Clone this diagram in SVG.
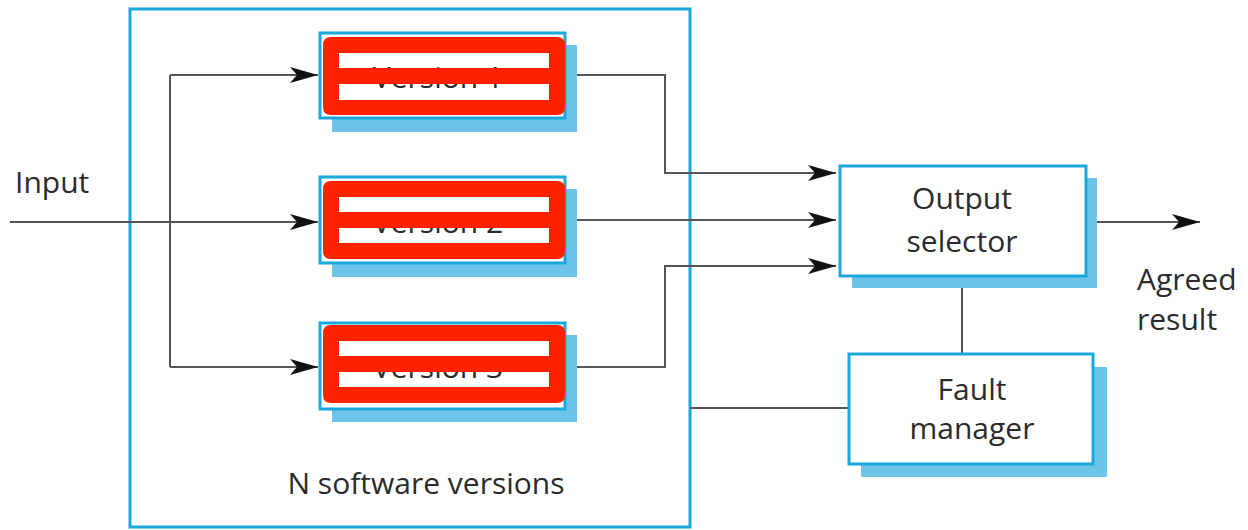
<svg xmlns="http://www.w3.org/2000/svg" width="1248" height="530" viewBox="0 0 1248 530">
<style>
  .box{fill:#fff;stroke:#1AA7DC;stroke-width:3}
  .shadow{fill:#6CC5E8}
  .lbl{font-family:"Open Sans","Noto Sans",sans-serif;font-size:30px;fill:#2b2b2b;text-anchor:middle}
  .lbl-l{font-family:"Open Sans","Noto Sans",sans-serif;font-size:30px;fill:#2b2b2b}
  .conn{fill:none;stroke:#555;stroke-width:2}
  .redact{fill:#FF2200;fill-rule:evenodd}
</style>
<defs>
  <marker id="arr" markerUnits="userSpaceOnUse" markerWidth="30" markerHeight="18" refX="28" refY="8" orient="auto">
    <path d="M0,0 L28,8 L0,16 L7,8 z" fill="#111"/>
  </marker>
</defs>
<rect width="1248" height="530" fill="#fff"/>

<g id="nversions">
  <rect x="130" y="9" width="560" height="518" fill="none" stroke="#1AA7DC" stroke-width="3"/>
  <text class="lbl" x="426" y="494">N software versions</text>
</g>

<g id="connectors">
  <path class="conn" d="M10,222 H318" marker-end="url(#arr)"/>
  <path class="conn" d="M170,75 V367"/>
  <path class="conn" d="M170,75 H318" marker-end="url(#arr)"/>
  <path class="conn" d="M170,367 H318" marker-end="url(#arr)"/>
  <path class="conn" d="M565,75 H665 V173 H836" marker-end="url(#arr)"/>
  <path class="conn" d="M565,220 H836" marker-end="url(#arr)"/>
  <path class="conn" d="M565,367 H665 V266 H836" marker-end="url(#arr)"/>
  <path class="conn" d="M1086,222 H1200" marker-end="url(#arr)"/>
  <path class="conn" d="M962,277 V354"/>
  <path class="conn" d="M690,408 H849"/>
</g>

<g id="version1">
  <rect class="shadow" x="332" y="45" width="245" height="87"/>
  <rect class="box" x="320" y="33" width="245" height="85"/>
  <text class="lbl" x="438" y="88">Version 1</text>
  <path class="redact" d="M331,37 H557 Q565,37 565,45 V107 Q565,115 557,115 H331 Q323,115 323,107 V45 Q323,37 331,37 Z M339,53 V68 H549 V53 Z M339,84 V100 H549 V84 Z"/>
</g>

<g id="version2">
  <rect class="shadow" x="332" y="189" width="245" height="88"/>
  <rect class="box" x="320" y="177" width="245" height="86"/>
  <text class="lbl" x="438" y="233">Version 2</text>
  <path class="redact" d="M331,181 H557 Q565,181 565,189 V251 Q565,259 557,259 H331 Q323,259 323,251 V189 Q323,181 331,181 Z M339,197 V212 H549 V197 Z M339,228 V243 H549 V228 Z"/>
</g>

<g id="version3">
  <rect class="shadow" x="332" y="335" width="245" height="87"/>
  <rect class="box" x="320" y="323" width="245" height="86"/>
  <text class="lbl" x="438" y="378">Version 3</text>
  <path class="redact" d="M331,325 H557 Q565,325 565,333 V395 Q565,403 557,403 H331 Q323,403 323,395 V333 Q323,325 331,325 Z M339,341 V356 H549 V341 Z M339,372 V387 H549 V372 Z"/>
</g>

<g id="outputselector">
  <rect class="shadow" x="852" y="178" width="245" height="110"/>
  <rect class="box" x="840" y="166" width="246" height="110"/>
  <text class="lbl" x="962" y="209">Output</text>
  <text class="lbl" x="962" y="252">selector</text>
</g>

<g id="faultmanager">
  <rect class="shadow" x="861" y="367" width="246" height="110"/>
  <rect class="box" x="849" y="354" width="244" height="110"/>
  <text class="lbl" x="972" y="400" font-size="29">Fault</text>
  <text class="lbl" x="972" y="439" font-size="29">manager</text>
</g>

<g id="input">
  <text class="lbl-l" x="15" y="193">Input</text>
</g>

<g id="agreed">
  <text class="lbl-l" x="1137" y="290">Agreed</text>
  <text class="lbl-l" x="1137" y="330">result</text>
</g>
</svg>
